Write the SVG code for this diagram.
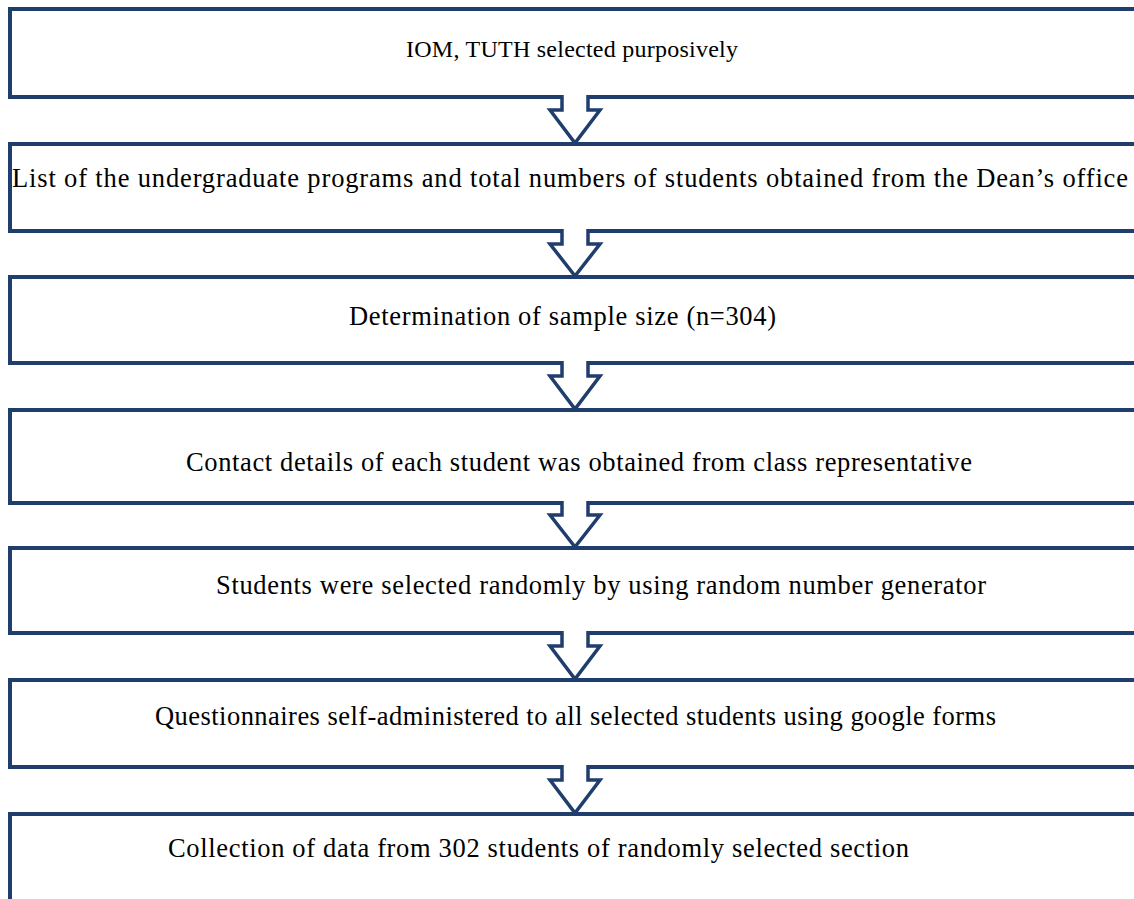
<svg xmlns="http://www.w3.org/2000/svg" width="1134" height="899" viewBox="0 0 1134 899">
<style>
.box{fill:#ffffff;stroke:#1f3d6d;stroke-width:4;stroke-linejoin:miter}
.arr{fill:#ffffff;stroke:#1f3d6d;stroke-width:3.5;stroke-linejoin:miter}
.t{font-family:"Liberation Serif","Times New Roman",serif;font-size:26.5px;fill:#000000}
</style>
<rect width="1134" height="899" fill="#ffffff"/>
<g id="node1"><rect class="box" x="10" y="9" width="1140" height="88"/><text class="t" x="406" y="57" textLength="332" lengthAdjust="spacing" style="font-size:24px">IOM, TUTH selected purposively</text></g>
<g id="node2"><rect class="box" x="10" y="144" width="1140" height="87"/><text class="t" x="12" y="187" textLength="1116" lengthAdjust="spacing">List of the undergraduate programs and total numbers of students obtained from the Dean’s office</text></g>
<g id="node3"><rect class="box" x="10" y="277" width="1140" height="86"/><text class="t" x="349" y="325" textLength="427" lengthAdjust="spacing">Determination of sample size (n=304)</text></g>
<g id="node4"><rect class="box" x="10" y="410" width="1140" height="93"/><text class="t" x="186" y="471" textLength="786" lengthAdjust="spacing">Contact details of each student was obtained from class representative</text></g>
<g id="node5"><rect class="box" x="10" y="548" width="1140" height="85"/><text class="t" x="216" y="594" textLength="770" lengthAdjust="spacing">Students were selected randomly by using random number generator</text></g>
<g id="node6"><rect class="box" x="10" y="680" width="1140" height="87"/><text class="t" x="155" y="725" textLength="841" lengthAdjust="spacing">Questionnaires self-administered to all selected students using google forms</text></g>
<g id="node7"><rect class="box" x="10" y="814" width="1140" height="100"/><text class="t" x="168" y="857" textLength="741" lengthAdjust="spacing">Collection of data from 302 students of randomly selected section</text></g>
<g id="connectors">
<path class="arr" d="M562,95 L562,110 L550,110 L575,143 L600,110 L588,110 L588,95"/>
<path class="arr" d="M562,229 L562,244 L550,244 L575,276 L600,244 L588,244 L588,229"/>
<path class="arr" d="M562,361 L562,376 L550,376 L575,409 L600,376 L588,376 L588,361"/>
<path class="arr" d="M562,501 L562,515 L550,515 L575,547 L600,515 L588,515 L588,501"/>
<path class="arr" d="M562,631 L562,646 L550,646 L575,679 L600,646 L588,646 L588,631"/>
<path class="arr" d="M562,765 L562,780 L550,780 L575,813 L600,780 L588,780 L588,765"/>
</g>
</svg>
